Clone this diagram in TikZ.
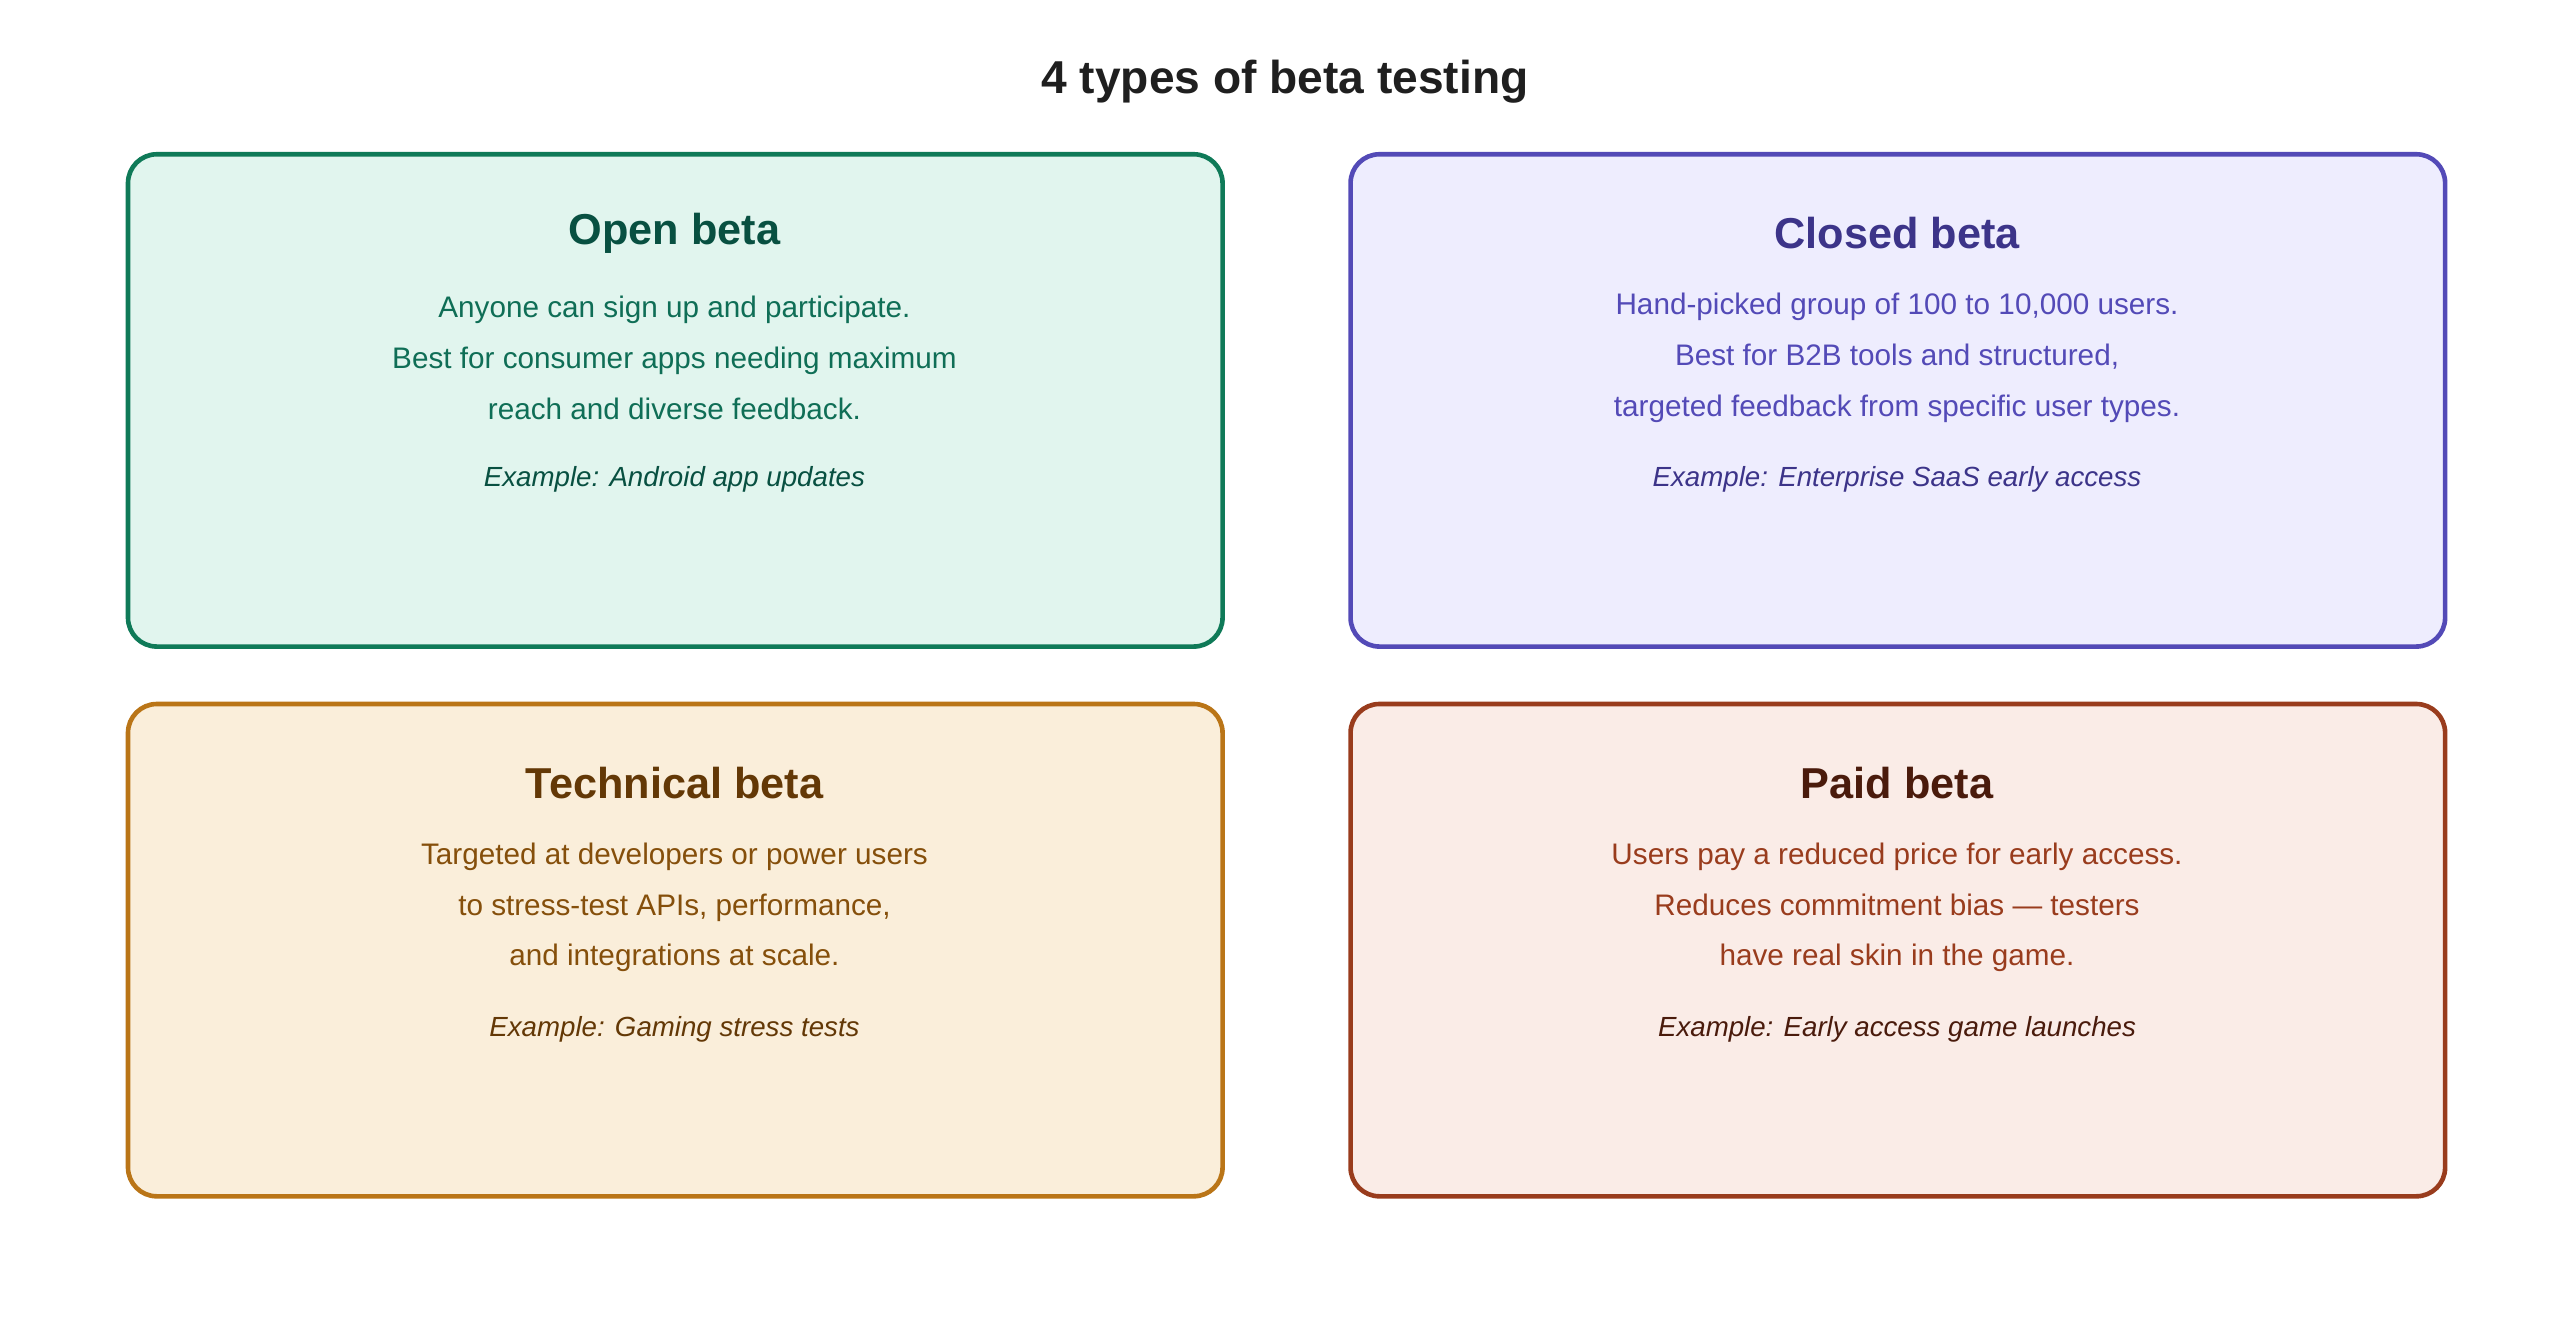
\documentclass[tikz,border=0pt]{standalone}
\usepackage{fontspec}
\setmainfont{Liberation Sans}
\usetikzlibrary{positioning}
\definecolor{gB}{HTML}{0F7A58}\definecolor{gF}{HTML}{E1F5EE}\definecolor{gH}{HTML}{085041}\definecolor{gT}{HTML}{0F6E56}
\definecolor{pB}{HTML}{534AB7}\definecolor{pF}{HTML}{EEEDFE}\definecolor{pH}{HTML}{3C3489}\definecolor{pT}{HTML}{534AB7}
\definecolor{oB}{HTML}{BA7517}\definecolor{oF}{HTML}{FAEEDA}\definecolor{oH}{HTML}{633806}\definecolor{oT}{HTML}{854F0B}
\definecolor{rB}{HTML}{993C1D}\definecolor{rF}{HTML}{FAECE7}\definecolor{rH}{HTML}{4A1B0C}\definecolor{rT}{HTML}{993C1D}
\tikzset{
  card/.style={draw=#1B, fill=#1F, line width=1.6pt, rounded corners=10pt},
  head/.style={font=\fontsize{15}{18}\selectfont\bfseries},
  body/.style={font=\fontsize{10.3}{17.6}\selectfont, align=center},
  example/.style={font=\fontsize{9.6}{12}\selectfont\itshape}
}
\begin{document}
\begin{tikzpicture}[x=0.02cm,y=-0.02cm]
\useasboundingbox (0,0) rectangle (1560,818);
\node[font=\fontsize{16}{19}\selectfont\bfseries, text=black!88] (title) at (783,50) {4 types of beta testing};
% cards
\draw[card=g] (78,94) rectangle (745,394);
\draw[card=p] (823,94) rectangle (1490,394);
\draw[card=o] (78,429) rectangle (745,729);
\draw[card=r] (823,429) rectangle (1490,729);
% open beta
\node[head, text=gH] (openH) at (411,142) {Open beta};
\node[body, text=gT] (openT) at (411,218) {Anyone can sign up and participate.\\Best for consumer apps needing maximum\\reach and diverse feedback.};
\node[example, text=gH] (openE) at (411,292) {Example: Android app updates};
% closed beta
\node[head, text=pH] (closedH) at (1156,142) {Closed beta};
\node[body, text=pT] (closedT) at (1156,218) {Hand-picked group of 100 to 10,000 users.\\Best for B2B tools and structured,\\targeted feedback from specific user types.};
\node[example, text=pH] (closedE) at (1156,292) {Example: Enterprise SaaS early access};
% technical beta
\node[head, text=oH] (techH) at (411,477) {Technical beta};
\node[body, text=oT] (techT) at (411,553) {Targeted at developers or power users\\to stress-test APIs, performance,\\and integrations at scale.};
\node[example, text=oH] (techE) at (411,627) {Example: Gaming stress tests};
% paid beta
\node[head, text=rH] (paidH) at (1156,477) {Paid beta};
\node[body, text=rT] (paidT) at (1156,553) {Users pay a reduced price for early access.\\Reduces commitment bias — testers\\have real skin in the game.};
\node[example, text=rH] (paidE) at (1156,627) {Example: Early access game launches};
\end{tikzpicture}
\end{document}
